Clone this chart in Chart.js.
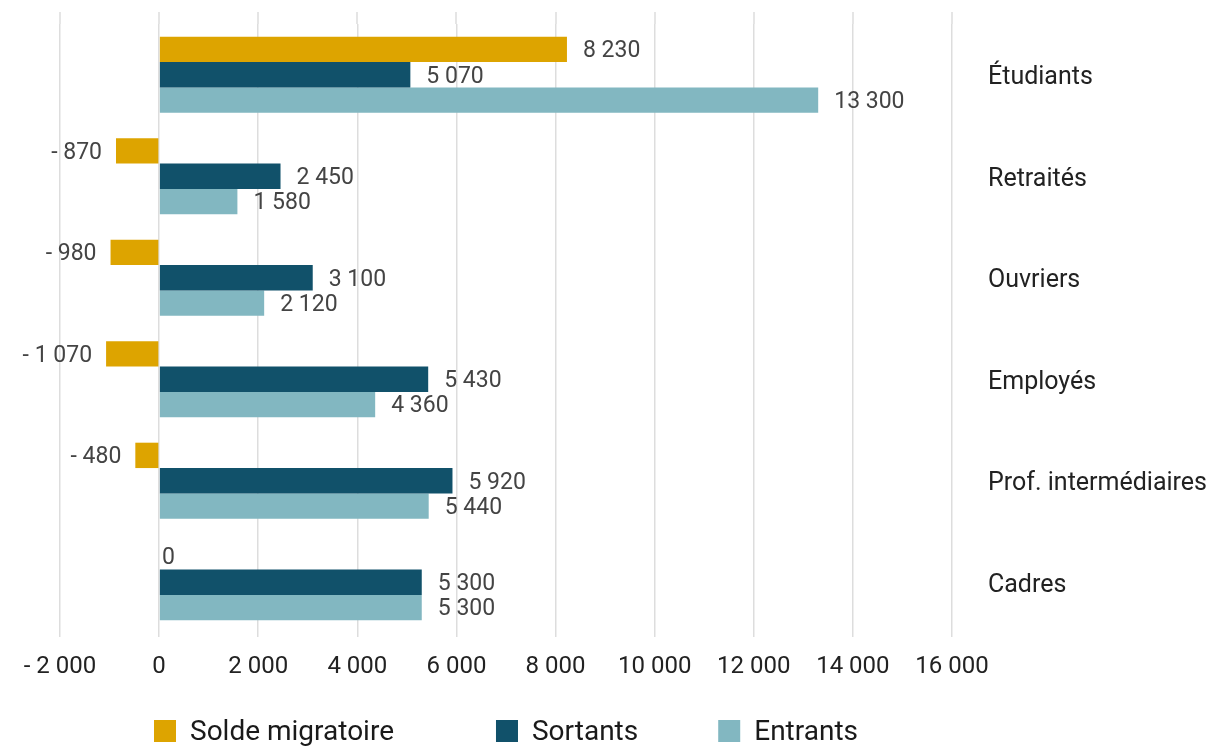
<!DOCTYPE html>
<html>
<head>
<meta charset="utf-8">
<script src="https://cdn.jsdelivr.net/npm/chart.js@4"></script>
<style>
  body { margin: 0; background: #fff; }
  #wrap { width: 1215px; height: 748px; }
</style>
</head>
<body>
<div id="wrap"><canvas id="chart" width="1215" height="748"></canvas></div>
<script>
const categories = ["Étudiants", "Retraités", "Ouvriers", "Employés", "Prof. intermédiaires", "Cadres"];
const solde = [8230, -870, -980, -1070, -480, 0];
const sortants = [5070, 2450, 3100, 5430, 5920, 5300];
const entrants = [13300, 1580, 2120, 4360, 5440, 5300];
const xTicks = [-2000, 0, 2000, 4000, 6000, 8000, 10000, 12000, 14000, 16000];

function fmt(v) {
  const s = Math.abs(v).toString().replace(/\B(?=(\d{3})+(?!\d))/g, ' ');
  return v < 0 ? '- ' + s : s;
}

// gridlines run a little above the first group
const gridTop = {
  id: 'gridTop',
  beforeDatasetsDraw(chart) {
    const ctx = chart.ctx;
    const x = chart.scales.x;
    ctx.save();
    ctx.strokeStyle = '#dddddd';
    ctx.lineWidth = 1.5;
    xTicks.forEach(v => {
      const px = Math.round(x.getPixelForValue(v));
      ctx.beginPath();
      ctx.moveTo(px, 12);
      ctx.lineTo(px, chart.chartArea.top);
      ctx.stroke();
    });
    ctx.restore();
  }
};

// value labels next to each bar
const barLabels = {
  id: 'barLabels',
  afterDatasetsDraw(chart) {
    const ctx = chart.ctx;
    ctx.save();
    ctx.font = '23px Roboto';
    ctx.fillStyle = '#444';
    ctx.textBaseline = 'middle';
    chart.data.datasets.forEach((ds, i) => {
      const meta = chart.getDatasetMeta(i);
      meta.data.forEach((bar, j) => {
        const v = ds.data[j];
        if (v < 0) {
          ctx.textAlign = 'right';
          ctx.fillText(fmt(v), bar.x - 14, bar.y + 2);
        } else if (v === 0) {
          ctx.textAlign = 'left';
          ctx.fillText(fmt(v), bar.x + 3, bar.y + 1);
        } else {
          ctx.textAlign = 'left';
          ctx.fillText(fmt(v), bar.x + 16, bar.y + 2);
        }
      });
    });
    ctx.restore();
  }
};

// legend under the plot, centred on the plot area
const bottomLegend = {
  id: 'bottomLegend',
  afterDraw(chart) {
    const ctx = chart.ctx;
    const area = chart.chartArea;
    const box = 22, gap = 14, spacing = [102, 80];
    ctx.save();
    ctx.font = '28px Roboto';
    ctx.textBaseline = 'middle';
    const items = chart.data.datasets.map(ds => ({
      text: ds.label, color: ds.backgroundColor, w: ctx.measureText(ds.label).width
    }));
    let total = 0;
    items.forEach((it, i) => { total += box + gap + it.w + (i ? spacing[i - 1] : 0); });
    let x = (area.left + area.right) / 2 - total / 2;
    const y = 731;
    items.forEach((it, i) => {
      ctx.fillStyle = it.color;
      ctx.fillRect(x, y - box / 2, box, box);
      ctx.fillStyle = '#1a1a1a';
      ctx.textAlign = 'left';
      ctx.fillText(it.text, x + box + gap, y + 2);
      x += box + gap + it.w + (spacing[i] || 0);
    });
    ctx.restore();
  }
};

new Chart(document.getElementById('chart'), {
  type: 'bar',
  data: {
    labels: categories,
    datasets: [
      { label: 'Solde migratoire', data: solde, backgroundColor: '#DDA400' },
      { label: 'Sortants', data: sortants, backgroundColor: '#11516A' },
      { label: 'Entrants', data: entrants, backgroundColor: '#82B7C1' }
    ]
  },
  options: {
    indexAxis: 'y',
    responsive: false,
    animation: false,
    categoryPercentage: 0.75,
    barPercentage: 1,
    layout: { padding: { left: 60, right: 5, top: 24, bottom: 66 } },
    scales: {
      x: {
        min: -2000,
        max: 16000,
        afterBuildTicks: (axis) => { axis.ticks = xTicks.map(v => ({ value: v })); },
        afterFit: (axis) => {
          axis.paddingLeft = 0; axis.paddingRight = 0;
          axis.paddingTop = 0; axis.paddingBottom = 0;
          axis.height = 49;
        },
        grid: { color: '#dddddd', lineWidth: 1.5, tickLength: 4, tickColor: '#dddddd' },
        border: { display: false },
        ticks: {
          font: { family: 'Roboto', size: 24 },
          color: '#222',
          padding: 16,
          maxRotation: 0,
          callback: (v) => fmt(v)
        }
      },
      y: {
        position: 'right',
        afterFit: (axis) => {
          axis.paddingTop = 0; axis.paddingBottom = 0;
          axis.paddingLeft = 0; axis.paddingRight = 0;
          axis.width = 258;
        },
        grid: { display: false, drawTicks: false },
        border: { display: false },
        ticks: {
          font: { family: 'Roboto', size: 25 },
          color: '#222',
          padding: 36,
          labelOffset: 3
        }
      }
    },
    plugins: {
      tooltip: { enabled: false },
      legend: { display: false }
    }
  },
  plugins: [gridTop, barLabels, bottomLegend]
});
</script>
</body>
</html>
